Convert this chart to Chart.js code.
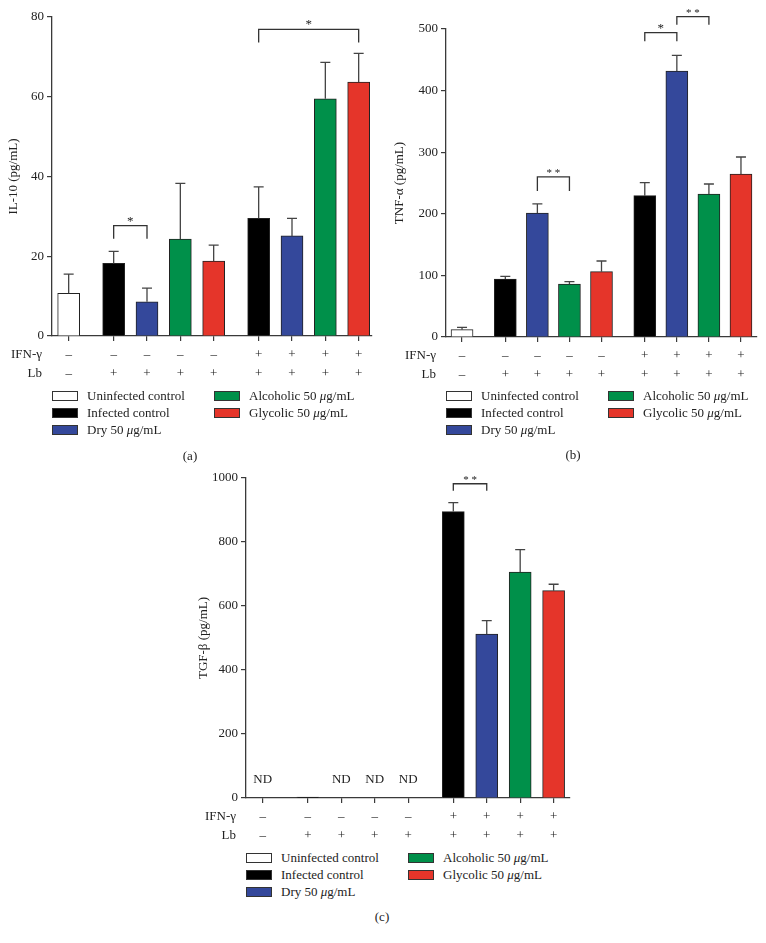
<!DOCTYPE html>
<html>
<head>
<meta charset="utf-8">
<script src="https://cdn.jsdelivr.net/npm/chart.js@4/dist/chart.umd.min.js"></script>
<style>
    body { margin: 0; background: #fff; width: 766px; height: 943px; position: relative; overflow: hidden;
           font-family: "Liberation Serif", "DejaVu Serif", serif; color: #222; }
    canvas { position: absolute; }
    .leg { position: absolute; font-size: 13px; white-space: nowrap; }
    .sw { position: absolute; width: 26px; height: 10px; border: 1px solid #333; box-sizing: border-box; }
    .cap { position: absolute; font-size: 13px; transform: translate(-50%, -50%); }
</style>
</head>
<body>
<canvas id="chartA" width="383" height="390" style="left:0;top:0"></canvas>
<canvas id="chartB" width="376" height="390" style="left:390px;top:0"></canvas>
<canvas id="chartC" width="390" height="410" style="left:196px;top:440px"></canvas>
<div id="legends"></div>
<script>
const treatments = ['Uninfected control', 'Infected control', 'Dry 50 <i>μ</i>g/mL', 'Alcoholic 50 <i>μ</i>g/mL', 'Glycolic 50 <i>μ</i>g/mL'];
const treatmentColors = ['#ffffff', '#000000', '#34489b', '#00904a', '#e5352a'];

// 9 bars: uninfected | Lb only | Lb + IFN-γ
const treatmentOf = [0, 1, 2, 3, 4, 1, 2, 3, 4];
const groupOf = [0, 1, 1, 1, 1, 2, 2, 2, 2];
const ifnRow = ['–', '–', '–', '–', '–', '+', '+', '+', '+'];
const lbRow = ['–', '+', '+', '+', '+', '+', '+', '+', '+'];

const il10Means = [10.7, 18.2, 8.6, 24.3, 18.8, 29.5, 25.1, 59.5, 63.7];
const il10Errors = [4.8, 3.0, 3.4, 14.0, 4.0, 7.9, 4.4, 9.1, 7.2];
const il10Brackets = [
    { from: 1, to: 2, y: 27.7, drop: 3.3, label: '*' },
    { from: 5, to: 8, y: 76.9, drop: 3.3, label: '*' }
];

const tnfMeans = [11.9, 94.2, 201.3, 86, 106, 229.4, 431.8, 232.1, 264.6];
const tnfErrors = [3.7, 4.2, 14.7, 3.8, 17.4, 21.1, 25.3, 16.3, 27.6];
const tnfBrackets = [
    { from: 2, to: 3, y: 260, drop: 23, label: '* *' },
    { from: 5, to: 6, y: 494, drop: 14, label: '*' },
    { from: 6, to: 7, y: 520, drop: 13, label: '* *' }
];

const tgfMeans = [null, 3, null, null, null, 895, 512, 706, 648];
const tgfErrors = [0, 0, 0, 0, 0, 28, 42, 70, 20];
const tgfNotDetected = ['ND', '', 'ND', 'ND', 'ND', '', '', '', ''];
const tgfBrackets = [
    { from: 5, to: 6, y: 982, drop: 22, label: '* *' }
];

const GROUP_GAP = 0.35;
const xPositions = treatmentOf.map((t, i) => i + GROUP_GAP * groupOf[i]);
const FONT = '"Liberation Serif", "DejaVu Serif", serif';
const INK = '#222';
const AXIS = '#3a3a3a';

// error bars, significance brackets, ND marks and the row titles
const extras = {
    id: 'extras',
    afterDatasetsDraw(chart, args, o) {
        const { ctx, chartArea, scales: { x, y } } = chart;
        ctx.save();
        ctx.strokeStyle = '#444';
        ctx.lineWidth = 1.3;
        o.errors.forEach((e, i) => {
            const v = o.means[i];
            if (v == null || !e) return;
            const bx = x.getPixelForValue(xPositions[i]);
            const top = y.getPixelForValue(v + e);
            ctx.beginPath();
            ctx.moveTo(bx, y.getPixelForValue(v));
            ctx.lineTo(bx, top);
            ctx.moveTo(bx - 5, top);
            ctx.lineTo(bx + 5, top);
            ctx.stroke();
        });

        ctx.strokeStyle = '#333';
        ctx.fillStyle = INK;
        ctx.textAlign = 'center';
        ctx.textBaseline = 'alphabetic';
        o.brackets.forEach(b => {
            const x1 = x.getPixelForValue(xPositions[b.from]);
            const x2 = x.getPixelForValue(xPositions[b.to]);
            const yt = y.getPixelForValue(b.y);
            const yb = y.getPixelForValue(b.y - b.drop);
            ctx.beginPath();
            ctx.moveTo(x1, yb);
            ctx.lineTo(x1, yt);
            ctx.lineTo(x2, yt);
            ctx.lineTo(x2, yb);
            ctx.stroke();
            ctx.font = (b.label.length > 1 ? '11px ' : '13px ') + FONT;
            ctx.fillText(b.label, (x1 + x2) / 2, yt - 1);
        });

        ctx.font = '13px ' + FONT;
        ctx.textBaseline = 'middle';
        (o.nd || []).forEach((t, i) => {
            if (t) ctx.fillText(t, x.getPixelForValue(xPositions[i]), y.getPixelForValue(0) - 18);
        });

        ctx.textAlign = 'right';
        const r0 = x.top + 18.5;
        ctx.fillText('IFN-γ', chartArea.left - 10, r0);
        ctx.fillText('Lb', chartArea.left - 10, r0 + 19);
        ctx.restore();
    }
};

function createChart(id, means, errors, brackets, nd, yMax, yStep, yTitle, box) {
    const ctx = document.getElementById(id).getContext('2d');
    return new Chart(ctx, {
        type: 'bar',
        data: {
            datasets: [{
                data: xPositions.map((x, i) => ({ x: x, y: means[i] })),
                backgroundColor: treatmentOf.map(t => treatmentColors[t]),
                borderColor: '#222',
                borderWidth: 1,
                borderSkipped: 'bottom',
                barThickness: 22
            }]
        },
        plugins: [extras],
        options: {
            responsive: false,
            animation: false,
            devicePixelRatio: 1,
            layout: { padding: { top: box.top, right: box.right, left: 0, bottom: 0 } },
            plugins: {
                legend: { display: false },
                tooltip: { enabled: false },
                extras: { means: means, errors: errors, brackets: brackets, nd: nd }
            },
            scales: {
                x: {
                    type: 'linear',
                    min: -0.5,
                    max: box.xMax,
                    offset: false,
                    grid: { offset: false, drawOnChartArea: false, tickLength: 5, color: AXIS, lineWidth: 1.2 },
                    border: { display: true, color: AXIS, width: 1.3 },
                    afterBuildTicks: s => { s.ticks = xPositions.map(v => ({ value: v })); },
                    afterFit: s => { s.height = box.xHeight; },
                    ticks: {
                        autoSkip: false,
                        maxRotation: 0,
                        minRotation: 0,
                        padding: 4,
                        color: INK,
                        font: { family: FONT, size: 13, lineHeight: 19 / 13 },
                        callback: (v, i) => [ifnRow[i], lbRow[i]]
                    }
                },
                y: {
                    min: 0,
                    max: yMax,
                    grid: { drawOnChartArea: false, tickLength: 5, color: AXIS, lineWidth: 1.2 },
                    border: { display: true, color: AXIS, width: 1.3 },
                    afterFit: s => { s.width = box.yWidth; },
                    ticks: {
                        stepSize: yStep,
                        padding: 3,
                        color: INK,
                        font: { family: FONT, size: 13 },
                        callback: v => String(v)
                    },
                    title: {
                        display: true,
                        text: yTitle,
                        color: INK,
                        padding: { top: box.titlePad, bottom: 0 },
                        font: { family: FONT, size: 13 }
                    }
                }
            }
        }
    });
}

createChart('chartA', il10Means, il10Errors, il10Brackets, null, 80, 20, 'IL-10 (pg/mL)',
    { top: 17, right: 11, xMax: 9.1, xHeight: 54, yWidth: 52, titlePad: 6 });
createChart('chartB', tnfMeans, tnfErrors, tnfBrackets, null, 500, 100, 'TNF-α (pg/mL)',
    { top: 29, right: 9, xMax: 9.2, xHeight: 53, yWidth: 56, titlePad: 2 });
createChart('chartC', tgfMeans, tgfErrors, tgfBrackets, tgfNotDetected, 1000, 200, 'TGF-β (pg/mL)',
    { top: 38, right: 16, xMax: 9.19, xHeight: 52, yWidth: 50, titlePad: 0 });

// legends: first column holds items 0-2, second column items 3-4
function buildLegend(col1, col2, top, caption) {
    const root = document.getElementById('legends');
    treatments.forEach((name, i) => {
        const left = i < 3 ? col1 : col2;
        const row = i < 3 ? i : i - 3;
        const cy = top + row * 16.8;
        const sw = document.createElement('div');
        sw.className = 'sw';
        sw.style.left = left + 'px';
        sw.style.top = (cy - 5) + 'px';
        sw.style.background = treatmentColors[i];
        root.appendChild(sw);
        const t = document.createElement('div');
        t.className = 'leg';
        t.style.left = (left + 35) + 'px';
        t.style.top = (cy - 8) + 'px';
        t.innerHTML = name;
        root.appendChild(t);
    });
    const c = document.createElement('div');
    c.className = 'cap';
    c.style.left = caption[0] + 'px';
    c.style.top = caption[1] + 'px';
    c.textContent = caption[2];
    root.appendChild(c);
}

buildLegend(52, 214, 396, [190, 456, '(a)']);
buildLegend(446, 608, 396, [573, 455, '(b)']);
buildLegend(246, 408, 858, [382, 917, '(c)']);
</script>
</body>
</html>
